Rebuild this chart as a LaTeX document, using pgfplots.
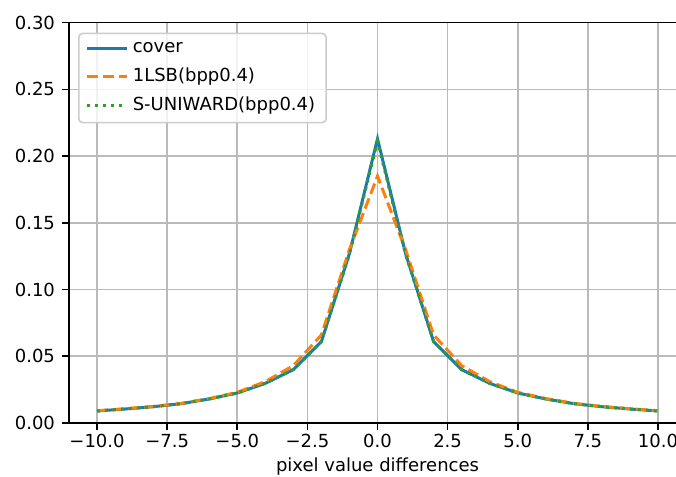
\documentclass[border=0pt]{standalone}
\usepackage{pgfplots}
\pgfplotsset{compat=1.18}
\usepackage{pgfplotstable}
\usepackage{fontspec}
\setmainfont{DejaVu Sans}

\definecolor{mplblue}{HTML}{1F77B4}
\definecolor{mplorange}{HTML}{FF7F0E}
\definecolor{mplgreen}{HTML}{2CA02C}

% histogram of pixel value differences
\pgfplotstableread{
x    cover   lsb     suni
-10  0.0090  0.0092  0.0090
-9   0.0105  0.0107  0.0105
-8   0.0122  0.0124  0.0122
-7   0.0145  0.0147  0.0145
-6   0.0180  0.0183  0.0180
-5   0.0225  0.0230  0.0225
-4   0.0297  0.0310  0.0297
-3   0.0400  0.0430  0.0400
-2   0.0610  0.0660  0.0610
-1   0.1270  0.1300  0.1265
0    0.2130  0.1850  0.2110
1    0.1270  0.1300  0.1265
2    0.0610  0.0660  0.0610
3    0.0400  0.0430  0.0400
4    0.0297  0.0310  0.0297
5    0.0225  0.0230  0.0225
6    0.0180  0.0183  0.0180
7    0.0145  0.0147  0.0145
8    0.0122  0.0124  0.0122
9    0.0105  0.0107  0.0105
10   0.0090  0.0092  0.0090
}\pdvtable

\begin{document}
\begin{tikzpicture}
\begin{axis}[
  at={(0,0)}, anchor=south west,
  scale only axis, width=308.5pt, height=200.2pt,
  xmin=-11, xmax=11, ymin=0, ymax=0.30,
  xtick={-10,-7.5,-5,-2.5,0,2.5,5,7.5,10},
  xticklabels={−10.0,−7.5,−5.0,−2.5,0.0,2.5,5.0,7.5,10.0},
  ytick={0,0.05,0.10,0.15,0.20,0.25,0.30},
  yticklabels={0.00,0.05,0.10,0.15,0.20,0.25,0.30},
  xtick pos=left, ytick pos=left,
  tick align=outside, major tick length=3.5pt,
  every tick/.style={black, line width=0.8pt},
  axis line style={black, line width=0.8pt},
  grid=major, grid style={color=black!27, line width=0.8pt},
  tick label style={font=\fontsize{9}{11}\selectfont},
  xticklabel style={yshift=1.5pt},
  label style={font=\fontsize{9}{11}\selectfont},
  xlabel={pixel value differences},
  xlabel style={yshift=2pt},
  legend cell align=left,
  legend image code/.code={\draw[#1] (0pt,0pt) -- (20pt,0pt);},
  legend style={at={(0.0146,0.975)}, anchor=north west,
    draw=black!20, line width=0.8pt, rounded corners=2pt,
    fill=white, fill opacity=0.8, text opacity=1,
    font=\fontsize{9}{11}\selectfont, row sep=2.2pt,
    inner xsep=3.5pt, inner ysep=2.5pt},
]
\addplot[mplblue, line width=1.5pt] table[x=x, y=cover] {\pdvtable};
\addlegendentry{cover}
\addplot[mplorange, line width=1.5pt, dash pattern=on 5.5pt off 2.4pt] table[x=x, y=lsb] {\pdvtable};
\addlegendentry{1LSB(bpp0.4)}
\addplot[mplgreen, line width=1.5pt, dash pattern=on 1.5pt off 2.5pt] table[x=x, y=suni] {\pdvtable};
\addlegendentry{S-UNIWARD(bpp0.4)}
\end{axis}
\pgfresetboundingbox
\useasboundingbox (-34.5pt,-27pt) rectangle (303.5pt,211.5pt);
\end{tikzpicture}
\end{document}
